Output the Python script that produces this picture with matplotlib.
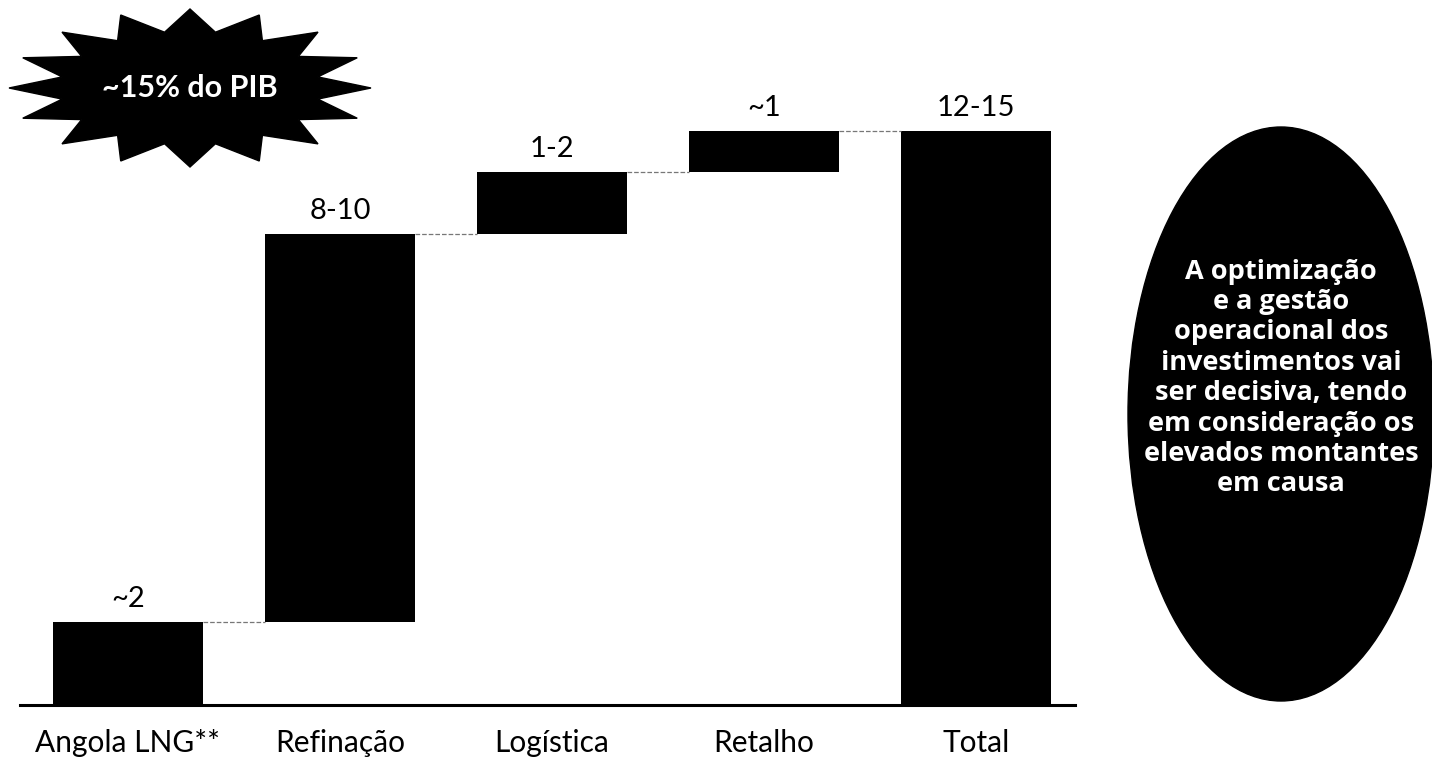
import matplotlib.pyplot as plt
import numpy as np
from matplotlib.patches import Ellipse, Polygon

plt.rcParams['font.family'] = ['Lato', 'DejaVu Sans']

# Investimentos por segmento (mil milhões USD)
categorias = ['Angola LNG**', 'Refinação', 'Logística', 'Retalho', 'Total']
valores = [2.0, 9.4, 1.5, 1.0]
rotulos = ['~2', '8-10', '1-2', '~1', '12-15']

total = sum(valores)
bases = np.concatenate([[0], np.cumsum(valores)[:-1]])
alturas = valores + [total]
bases = list(bases) + [0]

W, H = 1432, 763
fig = plt.figure(figsize=(W / 100, H / 100), dpi=100)

# eixo principal do waterfall
ax = fig.add_axes([20 / W, 1 - 705 / H, (1075 - 20) / W, 705 / H])
x = np.arange(len(categorias))
larg = 0.71
ax.bar(x, alturas, bottom=bases, width=larg, color='black')

# linhas de ligação tracejadas
topos = np.cumsum(valores)
for i in range(len(valores)):
    ax.plot([x[i] + larg / 2, x[i + 1] - larg / 2], [topos[i], topos[i]],
            ls='--', color='#777777', lw=0.9)

for xi, b, h, r in zip(x, bases, alturas, rotulos):
    ax.text(xi, b + h + 0.25, r, ha='center', va='bottom', fontsize=21)

ax.set_xlim(-0.509, 4.467)
ax.set_ylim(0, 705 / 41.3)
for s in ['top', 'right', 'left']:
    ax.spines[s].set_visible(False)
ax.spines['bottom'].set_linewidth(2.2)
ax.set_yticks([])
ax.set_xticks(x)
ax.set_xticklabels(categorias, fontsize=21.5)
ax.tick_params(axis='x', length=0, pad=17)

# camada em pixels para as formas
ov = fig.add_axes([0, 0, 1, 1])
ov.set_xlim(0, W)
ov.set_ylim(H, 0)
ov.axis('off')
ov.patch.set_alpha(0)

# estrela "~15% do PIB"
n = 16
cx, cy, rx, ry = 190, 88, 181, 79
ang = np.pi / 2 + np.arange(2 * n) * np.pi / n
rr = np.where(np.arange(2 * n) % 2 == 0, 1.0, 0.72)
pts = np.column_stack([cx + rx * rr * np.cos(ang), cy - ry * rr * np.sin(ang)])
ov.add_patch(Polygon(pts, closed=True, color='black'))
ov.text(cx, cy, '~15% do PIB', color='white', fontsize=22, fontweight='bold',
        ha='center', va='center')

# elipse com a nota
ov.add_patch(Ellipse((1281, 414), 306, 574, color='black'))
nota = ('A optimização\ne a gestão\noperacional dos\ninvestimentos vai\n'
        'ser decisiva, tendo\nem consideração os\nelevados montantes\nem causa')
ov.text(1281, 378, nota, color='white', fontsize=19.5, fontweight='bold',
        family=['Open Sans', 'DejaVu Sans'],
        ha='center', va='center', linespacing=1.22)

fig.savefig('out.png', dpi=100)
